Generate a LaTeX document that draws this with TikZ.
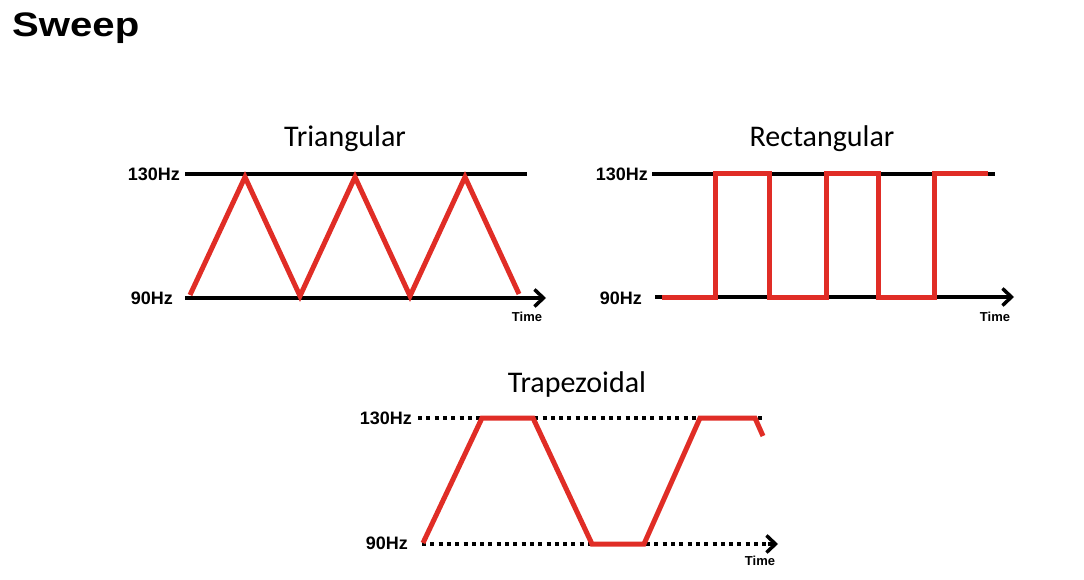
\documentclass[tikz,border=0pt]{standalone}
\usepackage{fontspec}
\setmainfont{Carlito}
\newfontfamily\arialfont{Liberation Sans}
\usetikzlibrary{arrows.meta}
\definecolor{sweepred}{RGB}{224,45,38}

\begin{document}
\begin{tikzpicture}[x=1pt,y=-1pt,
    axis/.style={line width=4pt},
    timeaxis/.style={axis,-{Straight Barb[length=9pt,width=17pt,line width=3.5pt]}},
    dotaxis/.style={line width=4pt,dash pattern=on 4pt off 4.3pt},
    wave/.style={sweepred,line width=5pt},
    title/.style={font=\fontsize{30}{30}\selectfont,anchor=base},
    hz/.style={font=\arialfont\bfseries\fontsize{18}{18}\selectfont,anchor=east,inner sep=1pt},
    tm/.style={font=\arialfont\bfseries\fontsize{13}{13}\selectfont,inner sep=0pt}]
  \useasboundingbox (0,0) rectangle (1084,580);
  \node[font=\arialfont\bfseries\fontsize{34}{34}\selectfont,anchor=base west,inner sep=0pt] (sweep) at (12,37) {\scalebox{1.18}[1]{Sweep}};

  % triangular
  \node[title] (tri) at (345,147) {Triangular};
  \node[hz] (tri130) at (181,174) {130Hz};
  \node[hz] (tri90) at (174,298) {90Hz};
  \node[tm] (tritime) at (527,317) {Time};
  \coordinate (triA) at (185,174);
  \coordinate (triB) at (185,298);
  \draw[axis] (triA) -- (527,174);
  \draw[timeaxis] (triB) -- (546,298);
  \draw[wave] (190,295) -- (245,177) -- (300,296) -- (355,177) -- (410,296) -- (465,177) -- (519,294);

  % rectangular
  \node[title] (rect) at (822,147) {Rectangular};
  \node[hz] (rect130) at (649,174) {130Hz};
  \node[hz] (rect90) at (643,298) {90Hz};
  \node[tm] (recttime) at (995,317) {Time};
  \coordinate (rectA) at (652,174);
  \coordinate (rectB) at (655,297);
  \draw[axis] (rectA) -- (995,174);
  \draw[timeaxis] (rectB) -- (1014,297);
  \draw[wave] (662,297) -- (715,297) -- (715,174) -- (769,174) -- (769,297) -- (826,297)
    -- (826,174) -- (878,174) -- (878,297) -- (934,297) -- (934,174) -- (988,174);

  % trapezoidal
  \node[title] (trap) at (577,392) {Trapezoidal};
  \node[hz] (trap130) at (413,418) {130Hz};
  \node[hz] (trap90) at (409,543) {90Hz};
  \node[tm] (traptime) at (760,561) {Time};
  \coordinate (trapA) at (418,418);
  \coordinate (trapB) at (422,544);
  \draw[dotaxis] (trapA) -- (762,418);
  \draw[dotaxis] (trapB) -- (768,544);
  \draw[-{Straight Barb[length=9pt,width=17pt,line width=3.5pt]},line width=4pt] (768,544) -- (778,544);
  \draw[wave] (423,543) -- (482,418) -- (533,418) -- (592,544) -- (644,544) -- (700,418) -- (755,418) -- (763,436);
\end{tikzpicture}
\end{document}
